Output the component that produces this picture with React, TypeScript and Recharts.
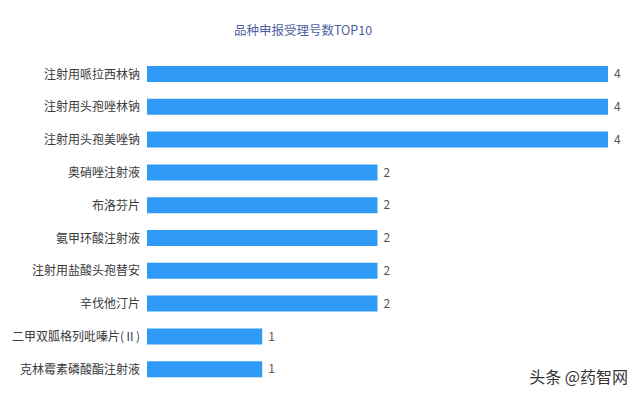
import React from "react";
import { BarChart, Bar, XAxis, YAxis, LabelList } from "recharts";

// 品种名称（从上到下）
const categories = [
  "注射用哌拉西林钠",
  "注射用头孢唑林钠",
  "注射用头孢美唑钠",
  "奥硝唑注射液",
  "布洛芬片",
  "氨甲环酸注射液",
  "注射用盐酸头孢替安",
  "辛伐他汀片",
  "二甲双胍格列吡嗪片(Ⅱ)",
  "克林霉素磷酸酯注射液",
];

// 受理号数
const counts = [4, 4, 4, 2, 2, 2, 2, 2, 1, 1];

const xTicks = [0, 1, 2, 3, 4];

const FONT = '"Noto Sans CJK SC", "Noto Sans", sans-serif';

export default function App() {
  const data = categories.map((name, i) => ({ name, count: counts[i] }));

  return (
    <div
      style={{
        position: "absolute",
        left: 0,
        top: 0,
        width: 640,
        height: 397,
        background: "#ffffff",
        fontFamily: FONT,
      }}
    >
      {/* 标题 */}
      <div
        style={{
          position: "absolute",
          top: 20,
          left: 0,
          width: 606,
          textAlign: "center",
          fontSize: 12.5,
          color: "#4f5fa3",
        }}
      >
        品种申报受理号数TOP10
      </div>

      <BarChart
        width={640}
        height={397}
        data={data}
        layout="vertical"
        margin={{ top: 58, right: 32, left: 0, bottom: 11 }}
      >
        <XAxis type="number" domain={[0, 4]} ticks={xTicks} hide />
        <YAxis
          type="category"
          dataKey="name"
          width={147}
          axisLine={false}
          tickLine={false}
          tickSize={0}
          tickMargin={7}
          interval={0}
          tick={{ fill: "#3a3a3a", fontSize: 12, fontFamily: FONT }}
        />
        <Bar dataKey="count" fill="#2f9bf6" barSize={16} isAnimationActive={false}>
          <LabelList
            dataKey="count"
            position="right"
            offset={6}
            fill="#555555"
            fontSize={12}
            fontFamily={FONT}
          />
        </Bar>
      </BarChart>

      {/* 水印 */}
      <div
        style={{
          position: "absolute",
          right: 12,
          bottom: 9,
          fontSize: 16,
          color: "#333333",
        }}
      >
        头条 @药智网
      </div>
    </div>
  );
}
